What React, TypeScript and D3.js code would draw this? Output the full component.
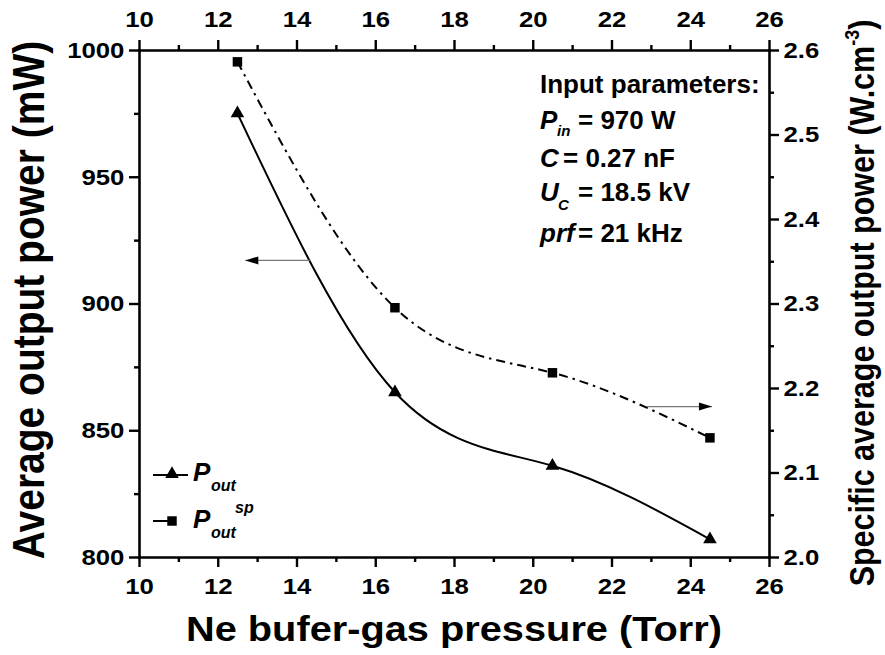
import React, { useEffect, useRef } from 'react';
import * as d3 from 'd3';

// measured points
const pressure = [12.5, 16.5, 20.5, 24.5];
const pOut = [975, 865, 836, 807];
const pOutSp = [2.586, 2.295, 2.218, 2.141];

const xTicks = [10, 12, 14, 16, 18, 20, 22, 24, 26];
const xMinorTicks = [11, 13, 15, 17, 19, 21, 23, 25];
const leftTicks = [800, 850, 900, 950, 1000];
const leftMinorTicks = [825, 875, 925, 975];
const rightTicks = [2.0, 2.1, 2.2, 2.3, 2.4, 2.5, 2.6];
const rightMinorTicks = [2.05, 2.15, 2.25, 2.35, 2.45, 2.55];

// arrows telling which axis each curve belongs to
const arrowLeft = { from: 14.35, to: 12.7, y: 917 };
const arrowRight = { from: 22.9, to: 24.55, y: 2.178 };

const FONT = '"Liberation Sans", Arial, Helvetica, sans-serif';
const SX = 1.12; // the original figure is a bit stretched sideways

const Chart = () => {
  const svgRef = useRef<SVGSVGElement>(null);

  useEffect(() => {
    renderChart();
  }, []);

  const renderChart = () => {
    const svg = d3.select(svgRef.current);
    svg.selectAll('*').remove();

    const width = 885;
    const height = 655;
    const left = 139, right = 769, top = 50, bottom = 557;

    svg.attr('width', width).attr('height', height)
      .style('font-family', FONT);

    const x = d3.scaleLinear().domain([10, 26]).range([left, right]);
    const yL = d3.scaleLinear().domain([800, 1000]).range([bottom, top]);
    const yR = d3.scaleLinear().domain([2.0, 2.6]).range([bottom, top]);

    const styleAxis = (g, minor = false) => {
      g.select('.domain')
        .attr('stroke', '#000')
        .attr('stroke-width', 2.6)
        .attr('stroke-linecap', 'square');
      if (minor) g.select('.domain').remove();
      g.selectAll('.tick line').attr('stroke', '#000').attr('stroke-width', 2.4);
      g.selectAll('.tick text')
        .attr('fill', '#000')
        .style('font-size', '23px')
        .style('font-weight', 'bold')
        .style('font-family', FONT)
        .attr('transform', `scale(${SX},1)`);
    };

    // bottom
    svg.append('g')
      .attr('transform', `translate(0,${bottom})`)
      .call(d3.axisBottom(x).tickValues(xMinorTicks).tickSize(5).tickSizeOuter(0).tickFormat(() => ''))
      .call(g => styleAxis(g, true));
    svg.append('g')
      .attr('transform', `translate(0,${bottom})`)
      .call(d3.axisBottom(x).tickValues(xTicks).tickSize(10).tickSizeOuter(0).tickPadding(11).tickFormat(d3.format('d')))
      .call(g => styleAxis(g));

    // top
    svg.append('g')
      .attr('transform', `translate(0,${top})`)
      .call(d3.axisTop(x).tickValues(xMinorTicks).tickSize(5).tickSizeOuter(0).tickFormat(() => ''))
      .call(g => styleAxis(g, true));
    svg.append('g')
      .attr('transform', `translate(0,${top})`)
      .call(d3.axisTop(x).tickValues(xTicks).tickSize(10).tickSizeOuter(0).tickPadding(13).tickFormat(d3.format('d')))
      .call(g => styleAxis(g));

    // left
    svg.append('g')
      .attr('transform', `translate(${left},0)`)
      .call(d3.axisLeft(yL).tickValues(leftMinorTicks).tickSize(5).tickSizeOuter(0).tickFormat(() => ''))
      .call(g => styleAxis(g, true));
    svg.append('g')
      .attr('transform', `translate(${left},0)`)
      .call(d3.axisLeft(yL).tickValues(leftTicks).tickSize(10).tickSizeOuter(0).tickPadding(3).tickFormat(d3.format('d')))
      .call(g => styleAxis(g));

    // right
    svg.append('g')
      .attr('transform', `translate(${right},0)`)
      .call(d3.axisRight(yR).tickValues(rightMinorTicks).tickSize(5).tickSizeOuter(0).tickFormat(() => ''))
      .call(g => styleAxis(g, true));
    svg.append('g')
      .attr('transform', `translate(${right},0)`)
      .call(d3.axisRight(yR).tickValues(rightTicks).tickSize(10).tickSizeOuter(0).tickPadding(3).tickFormat(d3.format('.1f')))
      .call(g => styleAxis(g));

    // axis titles
    svg.append('text')
      .attr('transform', `translate(454,641) scale(${SX},1)`)
      .attr('text-anchor', 'middle')
      .style('font-size', '35.5px')
      .style('font-weight', 'bold')
      .text('Ne bufer-gas pressure (Torr)');

    svg.append('text')
      .attr('transform', `translate(44,300) scale(${SX},1) rotate(-90)`)
      .attr('text-anchor', 'middle')
      .style('font-size', '39px')
      .style('font-weight', 'bold')
      .text('Average output power (mW)');

    const rt = svg.append('text')
      .attr('transform', `translate(874,303) scale(${SX},1) rotate(-90)`)
      .attr('text-anchor', 'middle')
      .style('font-size', '30.5px')
      .style('font-weight', 'bold');
    rt.append('tspan').text('Specific average output power (W.cm');
    rt.append('tspan').attr('dy', -13).style('font-size', '18px').text('-3');
    rt.append('tspan').attr('dy', 13).text(')');

    // curves
    const ptsOut = pressure.map((p, i) => [p, pOut[i]]);
    const ptsSp = pressure.map((p, i) => [p, pOutSp[i]]);

    const lineL = d3.line().x(d => x(d[0])).y(d => yL(d[1])).curve(d3.curveNatural);
    const lineR = d3.line().x(d => x(d[0])).y(d => yR(d[1])).curve(d3.curveNatural);

    svg.append('path')
      .attr('d', lineL(ptsOut))
      .attr('fill', 'none')
      .attr('stroke', '#000')
      .attr('stroke-width', 2);

    svg.append('path')
      .attr('d', lineR(ptsSp))
      .attr('fill', 'none')
      .attr('stroke', '#000')
      .attr('stroke-width', 2)
      .attr('stroke-dasharray', '9,5,2.5,5');

    const tri = d3.symbol(d3.symbolTriangle, 80);
    const sq = d3.symbol(d3.symbolSquare, 90);

    svg.selectAll('.tri')
      .data(ptsOut)
      .enter()
      .append('path')
      .attr('class', 'tri')
      .attr('d', tri)
      .attr('transform', d => `translate(${x(d[0])},${yL(d[1])})`)
      .attr('fill', '#000');

    svg.selectAll('.sq')
      .data(ptsSp)
      .enter()
      .append('path')
      .attr('class', 'sq')
      .attr('d', sq)
      .attr('transform', d => `translate(${x(d[0])},${yR(d[1])})`)
      .attr('fill', '#000');

    // arrows
    const arrow = (x1, x2, yy) => {
      svg.append('line')
        .attr('x1', x1).attr('x2', x2).attr('y1', yy).attr('y2', yy)
        .attr('stroke', '#777')
        .attr('stroke-width', 1.3);
      const dir = x2 > x1 ? 1 : -1;
      svg.append('path')
        .attr('d', `M${x2},${yy}L${x2 - dir * 13},${yy - 4}L${x2 - dir * 13},${yy + 4}Z`)
        .attr('fill', '#000');
    };
    arrow(x(arrowLeft.from), x(arrowLeft.to), yL(arrowLeft.y));
    arrow(x(arrowRight.from), x(arrowRight.to), yR(arrowRight.y));

    // legend
    const leg = svg.append('g');
    leg.append('line').attr('x1', 153).attr('x2', 188).attr('y1', 475).attr('y2', 475)
      .attr('stroke', '#000').attr('stroke-width', 2);
    leg.append('path').attr('d', tri).attr('transform', 'translate(172,474)');
    leg.append('line').attr('x1', 153).attr('x2', 176).attr('y1', 521).attr('y2', 521)
      .attr('stroke', '#000').attr('stroke-width', 2);
    leg.append('path').attr('d', sq).attr('transform', 'translate(172,521)');

    const legText = (px, py, sup) => {
      const t = leg.append('text')
        .style('font-weight', 'bold')
        .style('font-style', 'italic');
      t.append('tspan').attr('x', px).attr('y', py).style('font-size', '26px').text('P');
      t.append('tspan').attr('x', px + 18).attr('y', py + 10).style('font-size', '16px').text('out');
      if (sup) t.append('tspan').attr('x', px + 42).attr('y', py - 15).style('font-size', '16px').text(sup);
    };
    legText(193, 481, null);
    legText(193, 528, 'sp');

    // input parameters box
    const info = svg.append('g').style('font-weight', 'bold').style('font-size', '26px');
    info.append('text').attr('x', 540).attr('y', 93).text('Input parameters:');

    const l2 = info.append('text').attr('y', 129);
    l2.append('tspan').attr('x', 540).style('font-style', 'italic').text('P');
    l2.append('tspan').attr('x', 557).attr('dy', 7).style('font-style', 'italic').style('font-size', '15px').text('in');
    l2.append('tspan').attr('x', 578).attr('dy', -7).text('= 970 W');

    const l3 = info.append('text').attr('y', 167);
    l3.append('tspan').attr('x', 540).style('font-style', 'italic').text('C');
    l3.append('tspan').attr('x', 563).text('= 0.27 nF');

    const l4 = info.append('text').attr('y', 201);
    l4.append('tspan').attr('x', 540).style('font-style', 'italic').text('U');
    l4.append('tspan').attr('x', 558).attr('dy', 9).style('font-style', 'italic').style('font-size', '15px').text('C');
    l4.append('tspan').attr('x', 578).attr('dy', -9).text('= 18.5 kV');

    const l5 = info.append('text').attr('y', 242);
    l5.append('tspan').attr('x', 540).style('font-style', 'italic').text('prf');
    l5.append('tspan').attr('x', 578).text('= 21 kHz');
  };

  return <svg ref={svgRef} style={{ position: 'absolute', left: 0, top: 0, background: '#fff' }}></svg>;
};

export default function App() {
  return <Chart />;
}
